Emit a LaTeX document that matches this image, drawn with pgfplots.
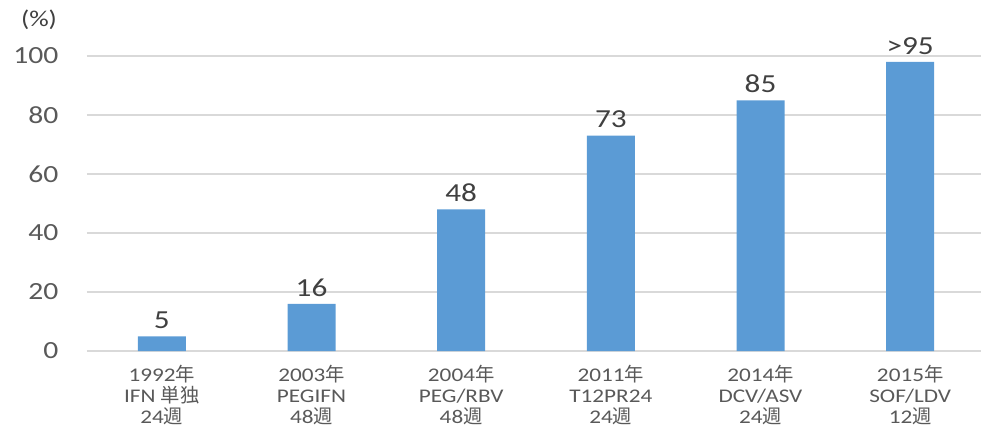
\documentclass[border=0pt]{standalone}
\usepackage{fontspec}
\setmainfont[FakeStretch=1.2]{Carlito}
\newfontfamily\jp{Noto Sans CJK JP}
\usepackage{pgfplots}
\pgfplotsset{compat=1.18}
\definecolor{barblue}{HTML}{5B9BD5}
\definecolor{ticktext}{HTML}{595959}
\definecolor{gridc}{HTML}{D9D9D9}
\definecolor{labtext}{HTML}{404040}
\begin{document}
\begin{tikzpicture}
\useasboundingbox (0,0) rectangle (735.75pt,322.5pt);
\begin{axis}[
  at={(65.25pt,59.25pt)}, anchor=south west,
  scale only axis, width=673.5pt, height=221.25pt,
  xmin=-0.5, xmax=5.5, ymin=0, ymax=100,
  ytick={0,20,40,60,80,100},
  xtick={0,1,2,3,4,5},
  xticklabels={
    {1992{\jp 年}\\IFN {\jp 単独}\\24{\jp 週}},
    {2003{\jp 年}\\PEGIFN\\48{\jp 週}},
    {2004{\jp 年}\\PEG/RBV\\48{\jp 週}},
    {2011{\jp 年}\\T12PR24\\24{\jp 週}},
    {2014{\jp 年}\\DCV/ASV\\24{\jp 週}},
    {2015{\jp 年}\\SOF/LDV\\12{\jp 週}}},
  xticklabel style={align=center, text=ticktext, font=\fontsize{14.5}{15.8}\selectfont, yshift=-7pt},
  yticklabel style={text=ticktext, font=\fontsize{18.5}{22}\selectfont, xshift=-18pt},
  /pgf/number format/assume math mode=true,
  major tick length=0pt,
  ymajorgrids, grid style={gridc, line width=0.9pt},
  axis lines*=left,
  y axis line style={draw=none},
  x axis line style={draw=gridc, line width=0.9pt, -},
  clip=false,
  ybar, bar width=36pt,
  nodes near coords={\pgfplotspointmeta},
  point meta=explicit symbolic,
  nodes near coords style={text=labtext, font=\fontsize{19.5}{22}\selectfont, inner sep=2pt, yshift=3.5pt},
]
\addplot[fill=barblue, draw=none] coordinates {
  (0,5) [5]
  (1,16) [16]
  (2,48) [48]
  (3,73) [73]
  (4,85) [85]
  (5,98) [>95]
};
\node[text=labtext, font=\fontsize{17}{20}\selectfont] at ([xshift=-36pt,yshift=27pt]rel axis cs:0,1) {(\%)};
\end{axis}
\end{tikzpicture}
\end{document}
